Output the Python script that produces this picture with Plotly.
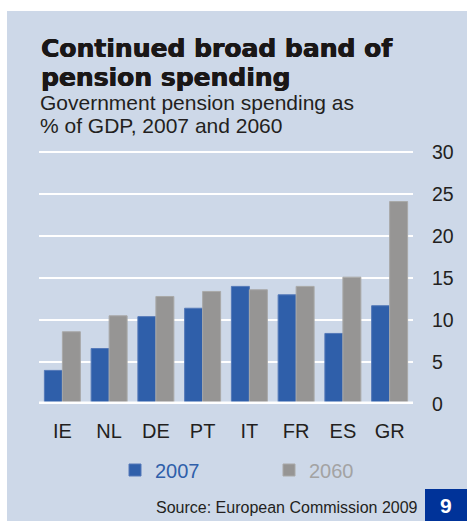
import plotly.graph_objects as go

# Government pension spending, % of GDP
countries = ["IE", "NL", "DE", "PT", "IT", "FR", "ES", "GR"]
spend_2007 = [4.0, 6.6, 10.4, 11.4, 14.0, 13.0, 8.4, 11.7]
spend_2060 = [8.6, 10.5, 12.8, 13.4, 13.6, 14.0, 15.1, 24.1]
y_ticks = [0, 5, 10, 15, 20, 25, 30]

W, H = 467, 521
BG = "#CDD8E8"
BLUE = "#2F5FAA"
GREY = "#969594"
GREY_TXT = "#A3A3A3"
INK = "#231F20"
TITLE_INK = "#1A1717"
NAVY = "#003399"
FONT = "Liberation Sans, Arial, sans-serif"

# y scale: 0 at 404 px, 30 at 152 px; a little headroom keeps the 30 gridline
Y_TOP = 30.5
PX_PER_UNIT = (404 - 152) / 30


def px(x):
    return x / W


def py(y):
    return 1 - y / H


fig = go.Figure()
fig.add_trace(go.Bar(
    x=countries, y=spend_2007, name=f"<span style='color:{BLUE}'>2007</span>",
    marker=dict(color=BLUE, line=dict(color="#5479B8", width=1)),
))
fig.add_trace(go.Bar(
    x=countries, y=spend_2060, name=f"<span style='color:{GREY_TXT}'>2060</span>",
    marker=dict(color=GREY, line=dict(color="#A9A9A8", width=1)),
))

fig.update_layout(
    width=W, height=H,
    margin=dict(l=0, r=0, t=0, b=0, autoexpand=False),
    paper_bgcolor="white",
    plot_bgcolor="rgba(0,0,0,0)",
    barmode="group", bargap=0.23, bargroupgap=0,
    font=dict(family=FONT, color=INK),
    showlegend=True,
    legend=dict(
        orientation="h", x=px(115), y=py(470), xanchor="left", yanchor="middle",
        bgcolor="rgba(0,0,0,0)", font=dict(size=20, family=FONT),
        entrywidth=109, entrywidthmode="pixels", traceorder="normal",
    ),
    xaxis=dict(
        domain=[px(39), px(413)], automargin=False,
        showgrid=False, showline=False, zeroline=False,
        ticks="", ticklabelstandoff=13,
        tickfont=dict(size=20, color=INK, family=FONT),
    ),
    yaxis=dict(
        domain=[py(404), py(152 - (Y_TOP - 30) * PX_PER_UNIT)],
        range=[0, Y_TOP], automargin=False,
        side="right", tickvals=y_ticks, ticks="",
        ticklabelstandoff=18,
        tickfont=dict(size=19.5, color=INK, family=FONT),
        showgrid=True, gridcolor="white", gridwidth=2,
        zeroline=False, showline=False,
    ),
)

# panel background, zero line and page marker
fig.add_shape(type="rect", xref="paper", yref="paper",
              x0=px(7), x1=px(467), y0=py(521), y1=py(11),
              fillcolor=BG, line=dict(width=0), layer="below")
fig.add_shape(type="line", xref="paper", yref="y",
              x0=px(39), x1=px(413), y0=0, y1=0,
              line=dict(color="white", width=5), layer="above")
fig.add_shape(type="rect", xref="paper", yref="paper",
              x0=px(425), x1=px(467), y0=py(521), y1=py(489),
              fillcolor=NAVY, line=dict(width=0))

title_font = dict(size=25, family="DejaVu Sans", weight="bold", color=TITLE_INK,
                  shadow=f"0.5px 0 0 {TITLE_INK}, -0.3px 0 0 {TITLE_INK}")
sub_font = dict(size=21, family=FONT, color=INK)
texts = [
    ("Continued broad band of", 39, 48, title_font),
    ("pension spending", 39, 77, title_font),
    ("Government pension spending as", 38, 103, sub_font),
    ("% of GDP, 2007 and 2060", 38, 125, sub_font),
]
for txt, x, y, f in texts:
    fig.add_annotation(text=txt, xref="paper", yref="paper", x=px(x), y=py(y),
                       xanchor="left", yanchor="middle", showarrow=False, font=f)

fig.add_annotation(text="Source: European Commission 2009", xref="paper", yref="paper",
                   x=px(420), y=py(507), xanchor="right", yanchor="middle",
                   showarrow=False, font=dict(size=16, family=FONT, color=INK))
fig.add_annotation(text="<b>9</b>", xref="paper", yref="paper",
                   x=px(446), y=py(505), xanchor="center", yanchor="middle",
                   showarrow=False, font=dict(size=21, family=FONT, color="white"))

fig.write_html("out.html")
